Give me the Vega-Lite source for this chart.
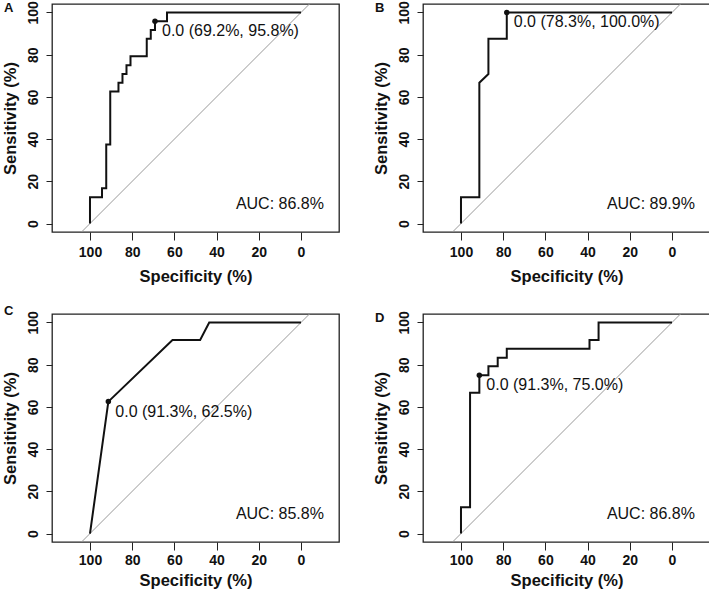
{
  "$schema": "https://vega.github.io/schema/vega-lite/v6.json",
  "padding": {"left": 1, "top": 0, "right": 0, "bottom": 0},
  "background": "white",
  "data": {"values": [
    {"panel": "A", "series": "diag", "i": 0, "spec": 120, "sens": -20},
    {"panel": "A", "series": "diag", "i": 1, "spec": -20, "sens": 120},
    {"panel": "A", "series": "roc", "i": 0, "spec": 100, "sens": 0},
    {"panel": "A", "series": "roc", "i": 1, "spec": 100, "sens": 12.5},
    {"panel": "A", "series": "roc", "i": 2, "spec": 94.3, "sens": 12.5},
    {"panel": "A", "series": "roc", "i": 3, "spec": 94.3, "sens": 16.7},
    {"panel": "A", "series": "roc", "i": 4, "spec": 92.3, "sens": 16.7},
    {"panel": "A", "series": "roc", "i": 5, "spec": 92.3, "sens": 37.5},
    {"panel": "A", "series": "roc", "i": 6, "spec": 90.4, "sens": 37.5},
    {"panel": "A", "series": "roc", "i": 7, "spec": 90.4, "sens": 62.5},
    {"panel": "A", "series": "roc", "i": 8, "spec": 86.5, "sens": 62.5},
    {"panel": "A", "series": "roc", "i": 9, "spec": 86.5, "sens": 66.7},
    {"panel": "A", "series": "roc", "i": 10, "spec": 84.6, "sens": 66.7},
    {"panel": "A", "series": "roc", "i": 11, "spec": 84.6, "sens": 70.8},
    {"panel": "A", "series": "roc", "i": 12, "spec": 82.7, "sens": 70.8},
    {"panel": "A", "series": "roc", "i": 13, "spec": 82.7, "sens": 75},
    {"panel": "A", "series": "roc", "i": 14, "spec": 80.8, "sens": 75},
    {"panel": "A", "series": "roc", "i": 15, "spec": 80.8, "sens": 79.2},
    {"panel": "A", "series": "roc", "i": 16, "spec": 73.1, "sens": 79.2},
    {"panel": "A", "series": "roc", "i": 17, "spec": 73.1, "sens": 87.5},
    {"panel": "A", "series": "roc", "i": 18, "spec": 71.2, "sens": 87.5},
    {"panel": "A", "series": "roc", "i": 19, "spec": 71.2, "sens": 91.7},
    {"panel": "A", "series": "roc", "i": 20, "spec": 69.2, "sens": 91.7},
    {"panel": "A", "series": "roc", "i": 21, "spec": 69.2, "sens": 95.8},
    {"panel": "A", "series": "roc", "i": 22, "spec": 63.5, "sens": 95.8},
    {"panel": "A", "series": "roc", "i": 23, "spec": 63.5, "sens": 100},
    {"panel": "A", "series": "roc", "i": 24, "spec": 0, "sens": 100},
    {"panel": "A", "series": "thr", "i": 0, "spec": 69.2, "sens": 95.8, "label": "0.0 (69.2%, 95.8%)"},
    {"panel": "A", "series": "auc", "i": 0, "spec": 10, "sens": 9.5, "label": "AUC: 86.8%"},

    {"panel": "B", "series": "diag", "i": 0, "spec": 120, "sens": -20},
    {"panel": "B", "series": "diag", "i": 1, "spec": -20, "sens": 120},
    {"panel": "B", "series": "roc", "i": 0, "spec": 100, "sens": 0},
    {"panel": "B", "series": "roc", "i": 1, "spec": 100, "sens": 12.5},
    {"panel": "B", "series": "roc", "i": 2, "spec": 91.3, "sens": 12.5},
    {"panel": "B", "series": "roc", "i": 3, "spec": 91.3, "sens": 66.7},
    {"panel": "B", "series": "roc", "i": 4, "spec": 87, "sens": 70.8},
    {"panel": "B", "series": "roc", "i": 5, "spec": 87, "sens": 87.5},
    {"panel": "B", "series": "roc", "i": 6, "spec": 78.3, "sens": 87.5},
    {"panel": "B", "series": "roc", "i": 7, "spec": 78.3, "sens": 100},
    {"panel": "B", "series": "roc", "i": 8, "spec": 0, "sens": 100},
    {"panel": "B", "series": "thr", "i": 0, "spec": 78.3, "sens": 100, "label": "0.0 (78.3%, 100.0%)"},
    {"panel": "B", "series": "auc", "i": 0, "spec": 10, "sens": 9.5, "label": "AUC: 89.9%"},

    {"panel": "C", "series": "diag", "i": 0, "spec": 120, "sens": -20},
    {"panel": "C", "series": "diag", "i": 1, "spec": -20, "sens": 120},
    {"panel": "C", "series": "roc", "i": 0, "spec": 100, "sens": 0},
    {"panel": "C", "series": "roc", "i": 1, "spec": 91.3, "sens": 62.5},
    {"panel": "C", "series": "roc", "i": 2, "spec": 60.9, "sens": 91.7},
    {"panel": "C", "series": "roc", "i": 3, "spec": 47.8, "sens": 91.7},
    {"panel": "C", "series": "roc", "i": 4, "spec": 43.5, "sens": 100},
    {"panel": "C", "series": "roc", "i": 5, "spec": 0, "sens": 100},
    {"panel": "C", "series": "thr", "i": 0, "spec": 91.3, "sens": 62.5, "label": "0.0 (91.3%, 62.5%)"},
    {"panel": "C", "series": "auc", "i": 0, "spec": 10, "sens": 9.5, "label": "AUC: 85.8%"},

    {"panel": "D", "series": "diag", "i": 0, "spec": 120, "sens": -20},
    {"panel": "D", "series": "diag", "i": 1, "spec": -20, "sens": 120},
    {"panel": "D", "series": "roc", "i": 0, "spec": 100, "sens": 0},
    {"panel": "D", "series": "roc", "i": 1, "spec": 100, "sens": 12.5},
    {"panel": "D", "series": "roc", "i": 2, "spec": 95.7, "sens": 12.5},
    {"panel": "D", "series": "roc", "i": 3, "spec": 95.7, "sens": 66.7},
    {"panel": "D", "series": "roc", "i": 4, "spec": 91.3, "sens": 66.7},
    {"panel": "D", "series": "roc", "i": 5, "spec": 91.3, "sens": 75},
    {"panel": "D", "series": "roc", "i": 6, "spec": 87, "sens": 75},
    {"panel": "D", "series": "roc", "i": 7, "spec": 87, "sens": 79.2},
    {"panel": "D", "series": "roc", "i": 8, "spec": 82.6, "sens": 79.2},
    {"panel": "D", "series": "roc", "i": 9, "spec": 82.6, "sens": 83.3},
    {"panel": "D", "series": "roc", "i": 10, "spec": 78.3, "sens": 83.3},
    {"panel": "D", "series": "roc", "i": 11, "spec": 78.3, "sens": 87.5},
    {"panel": "D", "series": "roc", "i": 12, "spec": 39.1, "sens": 87.5},
    {"panel": "D", "series": "roc", "i": 13, "spec": 39.1, "sens": 91.7},
    {"panel": "D", "series": "roc", "i": 14, "spec": 34.8, "sens": 91.7},
    {"panel": "D", "series": "roc", "i": 15, "spec": 34.8, "sens": 100},
    {"panel": "D", "series": "roc", "i": 16, "spec": 0, "sens": 100},
    {"panel": "D", "series": "thr", "i": 0, "spec": 91.3, "sens": 75, "label": "0.0 (91.3%, 75.0%)"},
    {"panel": "D", "series": "auc", "i": 0, "spec": 10, "sens": 9.5, "label": "AUC: 86.8%"}
  ]},
  "config": {
    "view": {"stroke": "#222", "strokeWidth": 1.3},
    "font": "Liberation Sans",
    "axis": {
      "domain": false, "grid": false,
      "labelFont": "Liberation Sans", "labelFontWeight": "bold", "labelFontSize": 14, "labelColor": "#111",
      "titleFont": "Liberation Sans", "titleFontWeight": "bold", "titleFontSize": 16.5, "titleColor": "#111",
      "tickColor": "#222", "tickWidth": 1
    },
    "axisX": {"tickSize": 8, "labelPadding": 5, "titlePadding": 9},
    "axisY": {"tickSize": 6, "labelPadding": 6, "titlePadding": 8, "labelAngle": 270},
    "title": {"font": "Liberation Sans", "fontWeight": "bold", "fontSize": 13, "color": "#111", "anchor": "start", "frame": "bounds", "offset": -14, "dx": 2},
    "text": {"font": "Liberation Sans", "color": "#111"}
  },
  "vconcat": [
    {"hconcat": [
      {"width": 287, "height": 228, "title": {"text": "A"},
       "transform": [{"filter": "datum.panel === 'A'"}],
       "encoding": {
         "x": {"field": "spec", "type": "quantitative", "scale": {"domain": [-18, 118], "reverse": true, "nice": false, "zero": false}, "axis": {"values": [0, 20, 40, 60, 80, 100], "title": "Specificity (%)"}},
         "y": {"field": "sens", "type": "quantitative", "scale": {"domain": [-4, 104], "nice": false, "zero": false}, "axis": {"values": [0, 20, 40, 60, 80, 100], "title": "Sensitivity (%)"}}
       },
       "layer": [
         {"transform": [{"filter": "datum.series === 'diag'"}], "mark": {"type": "line", "color": "#999", "strokeWidth": 1, "clip": true}, "encoding": {"order": {"field": "i", "type": "quantitative"}}},
         {"transform": [{"filter": "datum.series === 'roc'"}], "mark": {"type": "line", "color": "#111", "strokeWidth": 2}, "encoding": {"order": {"field": "i", "type": "quantitative"}}},
         {"transform": [{"filter": "datum.series === 'thr'"}], "mark": {"type": "point", "filled": true, "color": "#111", "opacity": 1, "size": 30}},
         {"transform": [{"filter": "datum.series === 'thr'"}], "mark": {"type": "text", "align": "left", "baseline": "alphabetic", "dx": 7, "dy": 15, "fontSize": 16}, "encoding": {"text": {"field": "label"}}},
         {"transform": [{"filter": "datum.series === 'auc'"}], "mark": {"type": "text", "align": "center", "baseline": "middle", "fontSize": 16}, "encoding": {"text": {"field": "label"}}}
       ]},
      {"width": 287, "height": 228, "title": {"text": "B"},
       "transform": [{"filter": "datum.panel === 'B'"}],
       "encoding": {
         "x": {"field": "spec", "type": "quantitative", "scale": {"domain": [-18, 118], "reverse": true, "nice": false, "zero": false}, "axis": {"values": [0, 20, 40, 60, 80, 100], "title": "Specificity (%)"}},
         "y": {"field": "sens", "type": "quantitative", "scale": {"domain": [-4, 104], "nice": false, "zero": false}, "axis": {"values": [0, 20, 40, 60, 80, 100], "title": "Sensitivity (%)"}}
       },
       "layer": [
         {"transform": [{"filter": "datum.series === 'diag'"}], "mark": {"type": "line", "color": "#999", "strokeWidth": 1, "clip": true}, "encoding": {"order": {"field": "i", "type": "quantitative"}}},
         {"transform": [{"filter": "datum.series === 'roc'"}], "mark": {"type": "line", "color": "#111", "strokeWidth": 2}, "encoding": {"order": {"field": "i", "type": "quantitative"}}},
         {"transform": [{"filter": "datum.series === 'thr'"}], "mark": {"type": "point", "filled": true, "color": "#111", "opacity": 1, "size": 30}},
         {"transform": [{"filter": "datum.series === 'thr'"}], "mark": {"type": "text", "align": "left", "baseline": "alphabetic", "dx": 7, "dy": 15, "fontSize": 16}, "encoding": {"text": {"field": "label"}}},
         {"transform": [{"filter": "datum.series === 'auc'"}], "mark": {"type": "text", "align": "center", "baseline": "middle", "fontSize": 16}, "encoding": {"text": {"field": "label"}}}
       ]}
    ], "spacing": 32},
    {"hconcat": [
      {"width": 287, "height": 228, "title": {"text": "C", "offset": -7},
       "transform": [{"filter": "datum.panel === 'C'"}],
       "encoding": {
         "x": {"field": "spec", "type": "quantitative", "scale": {"domain": [-18, 118], "reverse": true, "nice": false, "zero": false}, "axis": {"values": [0, 20, 40, 60, 80, 100], "title": "Specificity (%)", "labelPadding": 3, "titlePadding": 5}},
         "y": {"field": "sens", "type": "quantitative", "scale": {"domain": [-4, 104], "nice": false, "zero": false}, "axis": {"values": [0, 20, 40, 60, 80, 100], "title": "Sensitivity (%)"}}
       },
       "layer": [
         {"transform": [{"filter": "datum.series === 'diag'"}], "mark": {"type": "line", "color": "#999", "strokeWidth": 1, "clip": true}, "encoding": {"order": {"field": "i", "type": "quantitative"}}},
         {"transform": [{"filter": "datum.series === 'roc'"}], "mark": {"type": "line", "color": "#111", "strokeWidth": 2}, "encoding": {"order": {"field": "i", "type": "quantitative"}}},
         {"transform": [{"filter": "datum.series === 'thr'"}], "mark": {"type": "point", "filled": true, "color": "#111", "opacity": 1, "size": 30}},
         {"transform": [{"filter": "datum.series === 'thr'"}], "mark": {"type": "text", "align": "left", "baseline": "alphabetic", "dx": 7, "dy": 15, "fontSize": 16}, "encoding": {"text": {"field": "label"}}},
         {"transform": [{"filter": "datum.series === 'auc'"}], "mark": {"type": "text", "align": "center", "baseline": "middle", "fontSize": 16}, "encoding": {"text": {"field": "label"}}}
       ]},
      {"width": 287, "height": 228, "title": {"text": "D", "offset": -14},
       "transform": [{"filter": "datum.panel === 'D'"}],
       "encoding": {
         "x": {"field": "spec", "type": "quantitative", "scale": {"domain": [-18, 118], "reverse": true, "nice": false, "zero": false}, "axis": {"values": [0, 20, 40, 60, 80, 100], "title": "Specificity (%)", "labelPadding": 3, "titlePadding": 5}},
         "y": {"field": "sens", "type": "quantitative", "scale": {"domain": [-4, 104], "nice": false, "zero": false}, "axis": {"values": [0, 20, 40, 60, 80, 100], "title": "Sensitivity (%)"}}
       },
       "layer": [
         {"transform": [{"filter": "datum.series === 'diag'"}], "mark": {"type": "line", "color": "#999", "strokeWidth": 1, "clip": true}, "encoding": {"order": {"field": "i", "type": "quantitative"}}},
         {"transform": [{"filter": "datum.series === 'roc'"}], "mark": {"type": "line", "color": "#111", "strokeWidth": 2}, "encoding": {"order": {"field": "i", "type": "quantitative"}}},
         {"transform": [{"filter": "datum.series === 'thr'"}], "mark": {"type": "point", "filled": true, "color": "#111", "opacity": 1, "size": 30}},
         {"transform": [{"filter": "datum.series === 'thr'"}], "mark": {"type": "text", "align": "left", "baseline": "alphabetic", "dx": 7, "dy": 15, "fontSize": 16}, "encoding": {"text": {"field": "label"}}},
         {"transform": [{"filter": "datum.series === 'auc'"}], "mark": {"type": "text", "align": "center", "baseline": "middle", "fontSize": 16}, "encoding": {"text": {"field": "label"}}}
       ]}
    ], "spacing": 32}
  ],
  "spacing": 18
}
